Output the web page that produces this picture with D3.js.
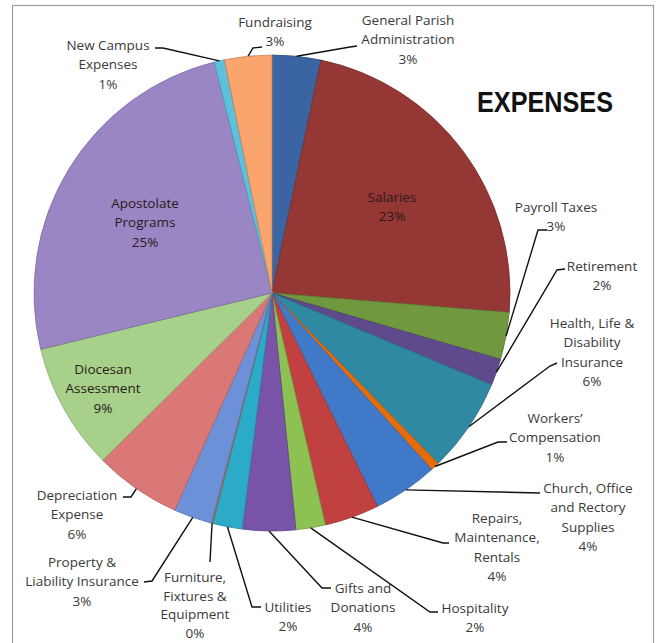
<!DOCTYPE html>
<html>
<head>
<meta charset="utf-8">
<script src="https://cdn.jsdelivr.net/npm/d3@7"></script>
<style>
  html, body { margin: 0; padding: 0; background: #fff; }
  svg { display: block; }
</style>
</head>
<body>
<svg id="chart" width="657" height="643"></svg>
<script>
// ---- data ----
const categories = [
  "General Parish\nAdministration", "Salaries", "Payroll Taxes", "Retirement",
  "Health, Life &\nDisability\nInsurance", "Workers’\nCompensation",
  "Church, Office\nand Rectory\nSupplies", "Repairs,\nMaintenance,\nRentals",
  "Hospitality", "Gifts and\nDonations", "Utilities", "Furniture,\nFixtures &\nEquipment",
  "Property &\nLiability Insurance", "Depreciation\nExpense", "Diocesan\nAssessment",
  "Apostolate\nPrograms", "New Campus\nExpenses", "Fundraising"
];
const values = [3.3, 23.0, 3.2, 1.8, 6.4, 0.6, 4.4, 3.7, 2.0, 3.6, 2.0, 0.1, 2.6, 5.9, 8.6, 24.9, 0.7, 3.2];
const colors = [
  "#3B65A2", "#953735", "#6F983F", "#5E4A8C", "#2F89A3", "#E46C0A",
  "#3F79C7", "#C0413F", "#8DC252", "#7853A8", "#2BABC7", "#A7794F",
  "#6C91D8", "#DA7877", "#A7D08A", "#9A86C4", "#5DC1DE", "#FAA46E"
];
const title = "EXPENSES";

// ---- layout (label anchors & leader bends) ----
const labelLayout = [
  {x: 408, y: 20,  bend: [350, 47], end: [357, 46]},
  {x: 392, y: 197, inside: true},
  {x: 556, y: 207, bend: [538, 230], end: [547, 230]},
  {x: 602, y: 266, bend: [557, 270], end: [565, 269]},
  {x: 592, y: 323, bend: [550, 366], end: [557, 363]},
  {x: 555, y: 418, bend: [498, 442], end: [507, 442]},
  {x: 588, y: 488, bend: [540, 493], end: [540, 493]},
  {x: 497, y: 518, bend: [443, 543], end: [449, 543]},
  {x: 475, y: 608, bend: [430, 612], end: [438, 612]},
  {x: 363, y: 588, bend: [322, 588], end: [331, 588]},
  {x: 288, y: 607, bend: [252, 607], end: [261, 607]},
  {x: 195, y: 577, bend: [210, 562], end: [210, 562], lh: 18.8},
  {x: 82,  y: 562, bend: [152, 581], end: [144, 582]},
  {x: 77,  y: 495, bend: [131, 497], end: [123, 497]},
  {x: 103, y: 369, inside: true},
  {x: 145, y: 203, inside: true},
  {x: 108, y: 45,  bend: [163, 48], end: [155, 48]},
  {x: 275, y: 22,  bend: [253, 48], end: [262, 47]}
];

const W = 657, H = 643;
const cx = 272, cy = 293, R = 238;
const lineH = 19.5;

const svg = d3.select("#chart");

// frame
svg.append("rect")
  .attr("x", 12.5).attr("y", 5.5)
  .attr("width", 641).attr("height", 660)
  .attr("fill", "#fff").attr("stroke", "#9c9c9c").attr("stroke-width", 1.2);

const data = categories.map((c, i) => ({name: c, value: values[i], color: colors[i], layout: labelLayout[i]}));
const total = d3.sum(values);

const pie = d3.pie().value(d => d.value).sort(null).startAngle(0).endAngle(2 * Math.PI);
const arcs = pie(data);
const arc = d3.arc().innerRadius(0).outerRadius(R);
const rimArc = d3.arc().innerRadius(R).outerRadius(R);

const g = svg.append("g").attr("transform", `translate(${cx},${cy})`);

g.selectAll("path.slice")
  .data(arcs)
  .join("path")
  .attr("class", "slice")
  .attr("d", arc)
  .attr("fill", d => d.data.color)
  .attr("stroke", d => d3.color(d.data.color).darker(0.6))
  .attr("stroke-width", 0.8);

// leader lines
const leaders = svg.append("g");
arcs.forEach(d => {
  const L = d.data.layout;
  if (L.inside) return;
  const c = rimArc.centroid(d);
  const p0 = [cx + c[0], cy + c[1]];
  leaders.append("path")
    .attr("d", d3.line()([p0, L.bend, L.end]))
    .attr("fill", "none")
    .attr("stroke", "#111")
    .attr("stroke-width", 1.4);
});

// labels
const labels = svg.append("g")
  .attr("font-family", "'Open Sans', 'Liberation Sans', sans-serif")
  .attr("font-size", 13.5)
  .attr("text-anchor", "middle");

arcs.forEach(d => {
  const L = d.data.layout;
  const pct = Math.round(d.data.value / total * 100) + "%";
  const lines = d.data.name.split("\n").concat([pct]);
  const lh = L.lh || lineH;
  const t = labels.append("text")
    .attr("fill", L.inside ? "#2a1a1a" : "#3a3a3a");
  lines.forEach((ln, k) => {
    t.append("tspan")
      .attr("x", L.x)
      .attr("y", L.y + k * lh)
      .attr("dy", "0.35em")
      .text(ln);
  });
});

// title
svg.append("text")
  .attr("x", 545).attr("y", 112)
  .attr("text-anchor", "middle")
  .attr("font-family", "'Liberation Sans', Arial, sans-serif")
  .attr("font-weight", "bold")
  .attr("font-size", 30)
  .attr("textLength", 136)
  .attr("lengthAdjust", "spacingAndGlyphs")
  .attr("fill", "#111")
  .text(title);
</script>
</body>
</html>
